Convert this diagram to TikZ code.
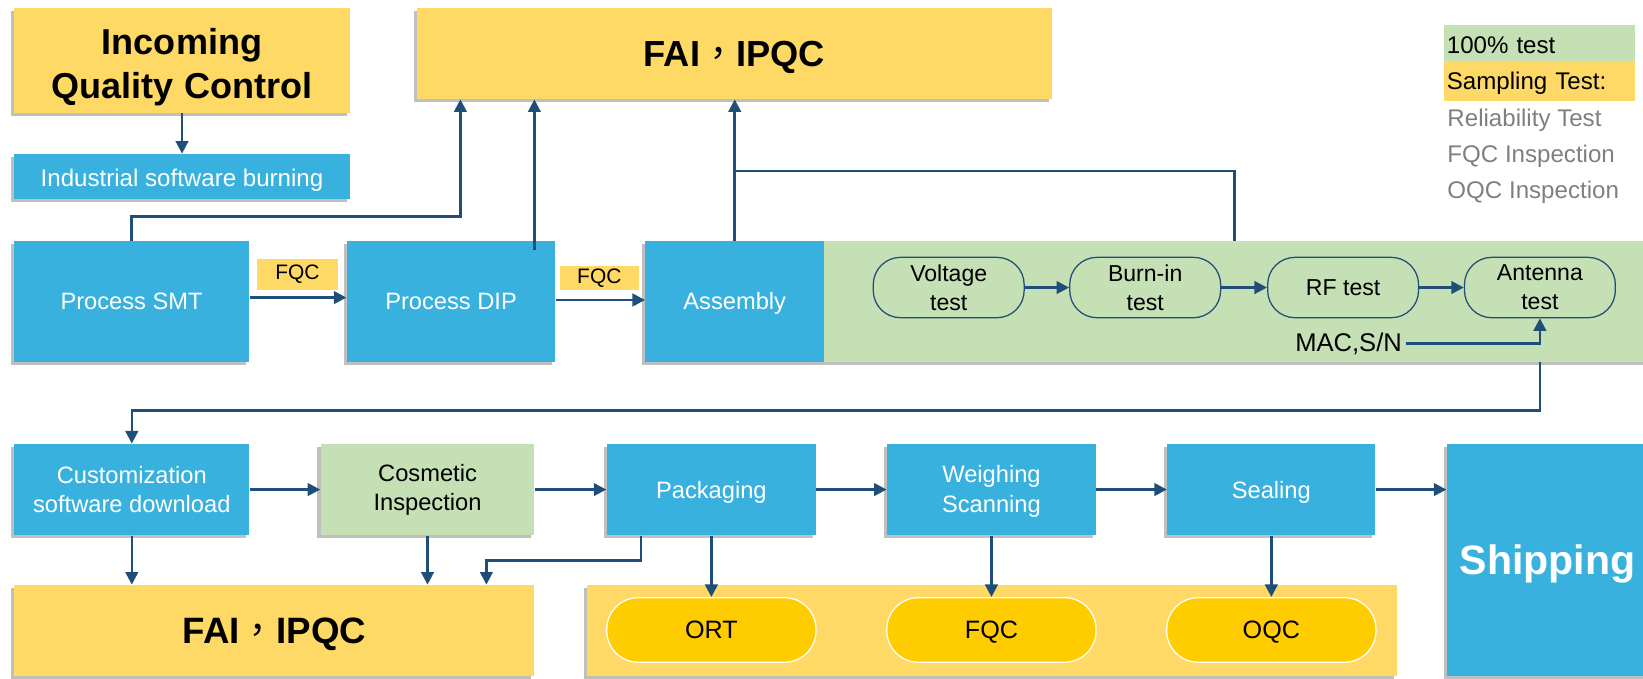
\documentclass[tikz,border=0pt]{standalone}
\usepackage{fontspec}
\setmainfont{Liberation Sans}
\newfontfamily\cjkfont{Noto Sans CJK TC}
\usetikzlibrary{arrows.meta,shadows}
\definecolor{qyellow}{HTML}{FFD966}
\definecolor{qblue}{HTML}{39B1DF}
\definecolor{qgreen}{HTML}{C5E0B4}
\definecolor{qgold}{HTML}{FFCC00}
\definecolor{qline}{HTML}{1F4E79}
\definecolor{qgray}{HTML}{7F7F7F}
\newcommand{\fsz}[2]{\fontsize{#1}{#2}\selectfont}
\newcommand{\qsep}{\smash{\cjkfont\mdseries ，}}
\newcommand{\qdown}[2]{\raisebox{-#1}[\height][\depth]{#2}}
\begin{document}
\begin{tikzpicture}[x=0.5pt,y=-0.5pt,
  shadowed/.style={drop shadow={shadow xshift=-1.5pt,shadow yshift=-1.5pt,opacity=0.25,fill=black}},
  ybox/.style={fill=qyellow,inner sep=0pt,align=center,shadowed},
  bbox/.style={fill=qblue,inner sep=0pt,text=white,align=center,font=\fsz{11.3}{14},shadowed},
  gbox/.style={fill=qgreen,inner sep=0pt,text=black,align=center,font=\fsz{11.3}{14},shadowed},
  ovalbox/.style={draw=qline,line width=0.6pt,fill=qgreen,rounded corners=13pt,inner sep=0pt,
    minimum width=72pt,minimum height=28.8pt,align=center,font=\fsz{11}{13.9}},
  goldoval/.style={draw=white,line width=0.6pt,fill=qgold,rounded corners=15pt,inner sep=0pt,
    minimum width=99.85pt,minimum height=30.8pt,font=\fsz{12}{14},text depth=0pt},
  fqclab/.style={fill=qyellow,inner sep=0pt,font=\fsz{10}{12}},
  legbox/.style={inner ysep=0pt,inner xsep=1.6pt,text width=88pt,align=left,font=\fsz{11.5}{14}},
  legtext/.style={anchor=west,inner sep=0pt,text=qgray,font=\fsz{11.5}{14}},
  onel/.style={text depth=0pt},
  arr/.style={draw=qline,line width=1.2pt,-{Triangle[length=6pt,width=6pt]}},
  ln/.style={draw=qline,line width=1.2pt},
]
\useasboundingbox (0,0) rectangle (1568,648);
\clip (0,0) rectangle (1568,648);

% top left
\node[ybox,minimum width=160.25pt,minimum height=49.75pt,font=\bfseries\fsz{17.2}{20.7}] (iqc) at (173.7,57.7)
  {\qdown{3.5pt}{\begin{tabular}{@{}c@{}}Incoming\\Quality Control\end{tabular}}};
\node[bbox,onel,minimum width=160.25pt,minimum height=21.5pt,font=\fsz{11.5}{14}] (isb) at (173.7,168.5) {\qdown{0.8pt}{Industrial software burning}};
\node[ybox,onel,minimum width=303.15pt,minimum height=43.25pt,font=\bfseries\fsz{17.3}{20}] (faitop) at (700.9,51.2) {FAI\qsep IPQC};

% legend
\node[legbox,fill=qgreen,minimum height=17.1pt] (leg1) at (1468.8,41.1) {\qdown{1.2pt}{100\% test}};
\node[legbox,fill=qyellow,minimum height=18.9pt] (leg2) at (1468.8,77.1) {\qdown{1.2pt}{Sampling Test:}};
\node[legtext] (leg3) at (1381,115) {Reliability Test};
\node[legtext] (leg4) at (1381,149.5) {FQC Inspection};
\node[legtext] (leg5) at (1381,183.5) {OQC Inspection};

% middle row
\node[fill=qgreen,inner sep=0pt,minimum width=394.3pt,minimum height=57.5pt,shadowed] (green) at (1180.7,287.6) {};
\node[bbox,onel,minimum width=112.5pt,minimum height=57.5pt] (smt) at (125.6,287.6) {Process SMT};
\node[bbox,onel,minimum width=99.5pt,minimum height=57.5pt] (dip) at (430.5,287.6) {Process DIP};
\node[bbox,onel,minimum width=85.2pt,minimum height=57.5pt] (asm) at (701.2,287.6) {Assembly};
\node[fqclab,minimum width=38.85pt,minimum height=14.8pt] (fqc1) at (283.9,262) {FQC};
\node[fqclab,minimum width=38pt,minimum height=11.5pt] (fqc2) at (572,265.3) {FQC};

\node[ovalbox] (volt) at (905.4,274.4) {Voltage\\test};
\node[ovalbox] (burn) at (1092.9,274.4) {Burn-in\\test};
\node[ovalbox] (rf) at (1281.8,274.4) {RF test};
\node[ovalbox] (ant) at (1469.6,274.4) {Antenna\\test};
\node[inner sep=2pt,font=\fsz{12.2}{14}] (mac) at (1287,328) {MAC,S/N};

% bottom row
\node[bbox,minimum width=112.25pt,minimum height=43.5pt] (cust) at (125.8,467.2) {Customization\\software download};
\node[gbox,minimum width=102pt,minimum height=43.5pt] (cos) at (408,467.2) {Cosmetic\\Inspection};
\node[bbox,onel,minimum width=99.85pt,minimum height=43.5pt] (pack) at (678.9,467.2) {Packaging};
\node[bbox,minimum width=99.65pt,minimum height=43.5pt] (weigh) at (946.2,467.2) {\qdown{1pt}{\begin{tabular}{@{}c@{}}Weighing\\Scanning\end{tabular}}};
\node[bbox,onel,minimum width=99.3pt,minimum height=43.5pt] (seal) at (1213.3,467.2) {Sealing};
\node[bbox,onel,minimum width=96.2pt,minimum height=110.75pt,font=\bfseries\fsz{19.6}{22}] (ship) at (1477,534.5) {Shipping};

\node[ybox,onel,minimum width=248.25pt,minimum height=43.45pt,font=\bfseries\fsz{17.5}{20}] (faibot) at (261.8,601.8) {FAI\qsep IPQC};
\node[ybox,minimum width=386.5pt,minimum height=43.45pt] (ybot) at (946.5,601.8) {};
\node[goldoval] (ort) at (678.9,601.2) {ORT};
\node[goldoval] (fqcb) at (946.2,601.2) {FQC};
\node[goldoval] (oqc) at (1213.3,601.2) {OQC};

% helper coordinates
\coordinate (c1) at (439.4,206.8);
\coordinate (d0) at (510,238.6);
\coordinate (b1) at (701.2,163.2);
\coordinate (b2) at (1178.3,163.2);
\coordinate (r1) at (0,284);
\coordinate (r2) at (0,286.3);
\coordinate (l1) at (1469.6,392);
\coordinate (p1) at (611.5,535);
\coordinate (p2) at (464.2,535);

% connectors top
\draw[arr] (iqc.south) -- (isb.north);
\draw[arr] (smt.north) |- (c1) -- (c1 |- faitop.south);
\draw[arr] (d0) -- (d0 |- faitop.south);
\draw[arr] (asm.north) -- (asm.north |- faitop.south);
\draw[ln] (b1) -- (b2) -- (b2 |- green.north);
\draw[arr] (smt.east |- r1) -- (dip.west |- r1);
\draw[arr] (dip.east |- r2) -- (asm.west |- r2);
\draw[arr] (volt) -- (burn);
\draw[arr] (burn) -- (rf);
\draw[arr] (rf) -- (ant);
\draw[arr] (mac.east) -| (ant.south);
\draw[arr] (l1 |- green.south) -- (l1) -| (cust.north);

% connectors bottom
\draw[arr] (cust) -- (cos);
\draw[arr] (cos) -- (pack);
\draw[arr] (pack) -- (weigh);
\draw[arr] (weigh) -- (seal);
\draw[arr] (seal.east) -- (seal.east -| ship.west);
\draw[arr] (cust.south) -- (cust.south |- faibot.north);
\draw[arr] (cos.south) -- (cos.south |- faibot.north);
\draw[arr] (pack.south -| p1) -- (p1) -- (p2) -- (p2 |- faibot.north);
\draw[arr] (pack.south) -- (ort.north);
\draw[arr] (weigh.south) -- (fqcb.north);
\draw[arr] (seal.south) -- (oqc.north);
\end{tikzpicture}
\end{document}
